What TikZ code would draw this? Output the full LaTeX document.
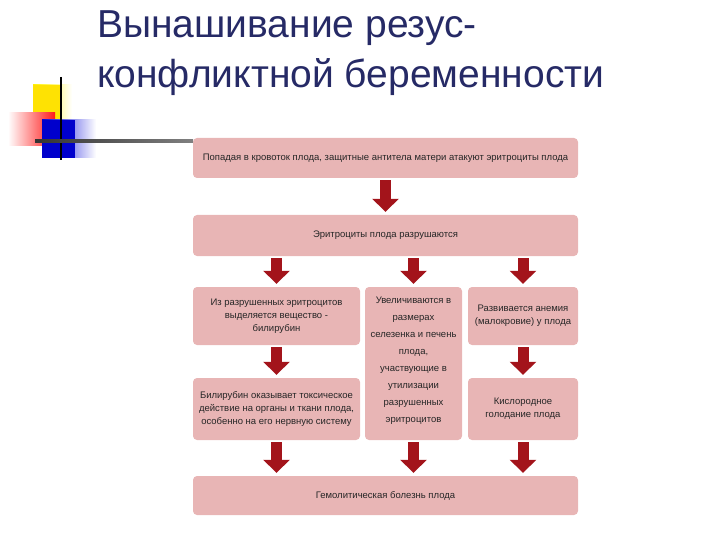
\documentclass[tikz,border=0pt]{standalone}
\usepackage{fontspec}
\setmainfont{Liberation Sans}
\usetikzlibrary{arrows.meta}
\definecolor{boxc}{HTML}{E8B5B5}
\definecolor{arr}{HTML}{A3141B}
\definecolor{ttl}{HTML}{262A66}
\tikzset{
  bx/.style={fill=boxc, rounded corners=4pt, draw=none, align=center, inner sep=2pt,
    font=\fontsize{9.5}{13}\selectfont, text=black!85},
  ar/.style={draw=arr, line width=11pt, shorten <=2pt, shorten >=3pt,
    -{Triangle[width=26pt,length=13pt]}}
}
\begin{document}
\begin{tikzpicture}[x=1pt,y=-1pt]
\useasboundingbox (0,0) rectangle (720,540);
% decoration
\shade[left color=yellow!90!orange, right color=white] (33,85) rectangle (72,120);
\fill[yellow!85!orange] (33,85) rectangle (60,120);
\shade[left color=white, right color=red!90] (8,113) rectangle (55,146);
\shade[left color=blue!85!black, right color=white] (42,120) rectangle (96,158);
\fill[blue!80!black] (42,120) rectangle (75,158);
\draw[black, line width=2pt] (61,77) -- (61,160);
\shade[left color=black!80, right color=black!50] (35,140) rectangle (193,142.5);
\node[anchor=north west, text=ttl, font=\fontsize{39}{50}\selectfont, align=left, inner sep=0] (title) at (97,10) {Вынашивание резус-\\конфликтной беременности};
% boxes
\node[bx, minimum width=385pt, minimum height=40pt] (b1) at (385.5,158) {Попадая в кровоток плода, защитные антитела матери атакуют эритроциты плода};
\node[bx, minimum width=385pt, minimum height=41pt] (b2) at (385.5,235.5) {Эритроциты плода разрушаются};
\node[bx, minimum width=167pt, minimum height=58pt] (l1) at (276.5,316) {Из разрушенных эритроцитов\\выделяется вещество -\\билирубин};
\node[bx, minimum width=97pt, minimum height=153pt] (m1) at (413.5,363.5) {};
\node[align=center, font=\fontsize{9.5}{17}\selectfont, text=black!85, anchor=north, inner sep=0] (m1t) at (413.5,297) {Увеличиваются в\\размерах\\селезенка и печень\\плода,\\участвующие в\\утилизации\\разрушенных\\эритроцитов};
\node[bx, minimum width=110pt, minimum height=58pt] (r1) at (523,316) {Развивается анемия\\(малокровие) у плода};
\node[bx, minimum width=167pt, minimum height=62pt] (l2) at (276.5,409) {Билирубин оказывает токсическое\\действие на органы и ткани плода,\\особенно на его нервную систему};
\node[bx, minimum width=110pt, minimum height=62pt] (r2) at (523,409) {Кислородное\\голодание плода};
\node[bx, minimum width=385pt, minimum height=39pt] (b3) at (385.5,495.5) {Гемолитическая болезнь плода};
% arrows
\draw[ar] (b1.south) -- (b2.north);
\draw[ar] (b2.south -| l1.north) -- (l1.north);
\draw[ar] (b2.south -| m1.north) -- (m1.north);
\draw[ar] (b2.south -| r1.north) -- (r1.north);
\draw[ar] (l1.south) -- (l2.north);
\draw[ar] (r1.south) -- (r2.north);
\draw[ar] (l2.south) -- (l2.south |- b3.north);
\draw[ar] (m1.south) -- (m1.south |- b3.north);
\draw[ar] (r2.south) -- (r2.south |- b3.north);
\end{tikzpicture}
\end{document}
